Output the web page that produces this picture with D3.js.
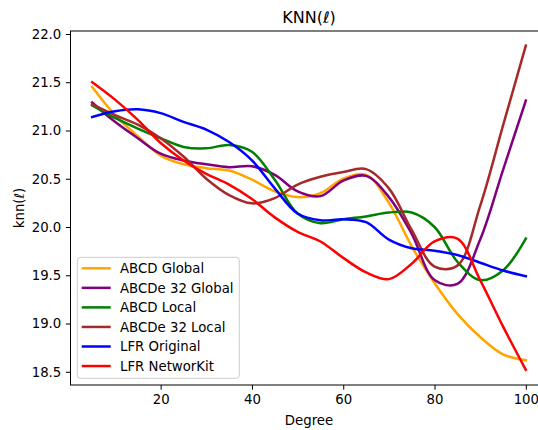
<!DOCTYPE html>
<html>
<head>
<meta charset="utf-8">
<script src="https://cdn.jsdelivr.net/npm/d3@7"></script>
<style>
  body { margin: 0; background: #fff; }
  svg { display: block; font-family: "DejaVu Sans", sans-serif; }
</style>
</head>
<body>
<div id="main"></div>
<script>
const layout = {
    width: 538,
    height: 430,
    left: 70.5,
    right: 547.5,   // right spine falls outside the picture
    top: 31,
    bottom: 385
};

// degree values shared by all series
const degrees = [5, 10, 15, 20, 25, 30, 35, 40, 45, 50, 55, 60, 65, 70, 75, 80, 85, 90, 95, 100];

const abcdGlobal   = [21.45, 21.16, 20.94, 20.74, 20.65, 20.61, 20.585, 20.49, 20.37, 20.31, 20.35, 20.50, 20.54, 20.25, 19.80, 19.42, 19.10, 18.86, 18.68, 18.62];
const abcde32Global = [21.29, 21.09, 20.92, 20.76, 20.69, 20.65, 20.62, 20.63, 20.54, 20.37, 20.32, 20.48, 20.53, 20.31, 19.93, 19.45, 19.41, 19.87, 20.59, 21.31];
const abcdLocal    = [21.26, 21.13, 21.02, 20.92, 20.83, 20.815, 20.85, 20.78, 20.49, 20.14, 20.04, 20.08, 20.11, 20.15, 20.15, 20.00, 19.64, 19.45, 19.55, 19.88];
const abcde32Local = [21.27, 21.16, 21.06, 20.92, 20.73, 20.50, 20.33, 20.245, 20.30, 20.44, 20.52, 20.57, 20.60, 20.40, 19.97, 19.59, 19.60, 20.22, 21.05, 21.88];
const lfrOriginal  = [21.14, 21.20, 21.22, 21.18, 21.09, 21.01, 20.88, 20.69, 20.40, 20.14, 20.07, 20.08, 20.05, 19.87, 19.78, 19.755, 19.71, 19.63, 19.55, 19.49];
const lfrNetworkit = [21.50, 21.32, 21.11, 20.87, 20.69, 20.55, 20.44, 20.29, 20.10, 19.95, 19.85, 19.68, 19.53, 19.46, 19.62, 19.85, 19.88, 19.45, 18.97, 18.52];

const seriesNames = ["ABCD Global", "ABCDe 32 Global", "ABCD Local", "ABCDe 32 Local", "LFR Original", "LFR NetworKit"];
const seriesColors = ["orange", "purple", "green", "brown", "blue", "red"];
const seriesValues = [abcdGlobal, abcde32Global, abcdLocal, abcde32Local, lfrOriginal, lfrNetworkit];

const xTicks = [20, 40, 60, 80, 100];
const yTicks = [18.5, 19.0, 19.5, 20.0, 20.5, 21.0, 21.5, 22.0];

let svg = d3.select("#main").append("svg")
    .attr("width", layout.width)
    .attr("height", layout.height);

let xScale = d3.scaleLinear()
    .domain([0.25, 104.75])
    .range([layout.left, layout.right]);
let yScale = d3.scaleLinear()
    .domain([18.363, 22.031])
    .range([layout.bottom, layout.top]);

// lines
let line = d3.line()
    .x(d => xScale(d[0]))
    .y(d => yScale(d[1]))
    .curve(d3.curveCatmullRom.alpha(0.5));

seriesValues.forEach((vals, i) => {
    svg.append("path")
        .datum(degrees.map((x, j) => [x, vals[j]]))
        .attr("fill", "none")
        .attr("stroke", seriesColors[i])
        .attr("stroke-width", 2.5)
        .attr("stroke-linecap", "square")
        .attr("d", line);
});

// axes
let xAxis = svg.append("g")
    .attr("transform", `translate(0,${layout.bottom})`)
    .call(d3.axisBottom(xScale).tickValues(xTicks).tickSize(4.7).tickPadding(4.5));
let yAxis = svg.append("g")
    .attr("transform", `translate(${layout.left},0)`)
    .call(d3.axisLeft(yScale).tickValues(yTicks).tickFormat(d3.format(".1f")).tickSize(4.7).tickPadding(4.5));

[xAxis, yAxis].forEach(ax => {
    ax.select(".domain").remove();
    ax.selectAll("line").attr("stroke", "#000").attr("stroke-width", 1);
    ax.selectAll("text")
        .attr("fill", "#000")
        .attr("font-size", 13.3)
        .attr("font-family", "DejaVu Sans, sans-serif");
});

// spines
svg.append("rect")
    .attr("x", layout.left)
    .attr("y", layout.top)
    .attr("width", layout.right - layout.left)
    .attr("height", layout.bottom - layout.top)
    .attr("fill", "none")
    .attr("stroke", "#000")
    .attr("stroke-width", 1);

// title and axis labels
svg.append("text")
    .attr("x", (layout.left + layout.right) / 2)
    .attr("y", 23.3)
    .attr("text-anchor", "middle")
    .attr("font-size", 16)
    .text("KNN(ℓ)");

svg.append("text")
    .attr("x", (layout.left + layout.right) / 2)
    .attr("y", 424.5)
    .attr("text-anchor", "middle")
    .attr("font-size", 13.3)
    .text("Degree");

svg.append("text")
    .attr("transform", `translate(24,${(layout.top + layout.bottom) / 2}) rotate(-90)`)
    .attr("text-anchor", "middle")
    .attr("font-size", 13.3)
    .text("knn(ℓ)");

// legend
let legend = svg.append("g");
legend.append("rect")
    .attr("x", 77.3)
    .attr("y", 257.3)
    .attr("width", 162)
    .attr("height", 121)
    .attr("rx", 3)
    .attr("fill", "#fff")
    .attr("fill-opacity", 0.8)
    .attr("stroke", "#cccccc")
    .attr("stroke-width", 1);

seriesNames.forEach((name, i) => {
    let y = 268.3 + i * 19.55;
    legend.append("line")
        .attr("x1", 81.7).attr("x2", 110.7)
        .attr("y1", y).attr("y2", y)
        .attr("stroke", seriesColors[i])
        .attr("stroke-width", 2.5);
    legend.append("text")
        .attr("x", 120)
        .attr("y", y)
        .attr("dy", "0.36em")
        .attr("font-size", 13.3)
        .text(name);
});
</script>
</body>
</html>
